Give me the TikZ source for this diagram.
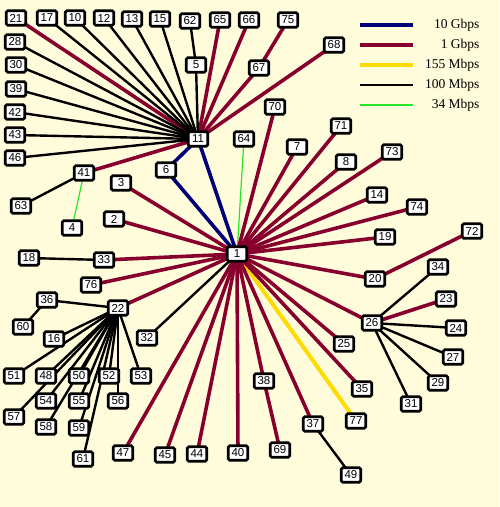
\documentclass[tikz,border=0pt]{standalone}
\usepackage{fontspec}
\setmainfont{Liberation Serif}
\setsansfont{Liberation Sans}
\usepackage{tikz}

\definecolor{paper}{RGB}{255,252,220}
\definecolor{linkblue}{RGB}{0,0,120}
\definecolor{linkred}{RGB}{135,0,45}
\definecolor{linkyellow}{RGB}{255,220,0}
\definecolor{linkgreen}{RGB}{40,230,40}

\pgfdeclarelayer{paperlayer}
\pgfdeclarelayer{linklayer}
\pgfsetlayers{paperlayer,linklayer,main}

\begin{document}
\begin{tikzpicture}[x=1pt, y=-1pt, font=\sffamily\fontsize{11.5}{12}\selectfont,
	host/.style={draw, fill=white, line width=2.7pt, rounded corners=1.5pt,
		minimum width=19.5pt, minimum height=14.5pt, inner sep=0pt},
	tengig/.style={draw=linkblue, line width=3.6pt},
	gig/.style={draw=linkred, line width=3.6pt},
	oc/.style={draw=linkyellow, line width=4pt},
	fast/.style={draw=black, line width=2.4pt},
	slow/.style={draw=linkgreen, line width=1.2pt},
	legtext/.style={anchor=east, font=\rmfamily\fontsize{13.5}{15}\selectfont}]
	\def\Lx{360}
	\def\Ll{53}
	\def\Tx{483}

	\begin{pgfonlayer}{paperlayer}
		\fill[paper]	(0,0) rectangle (499,507);
	\end{pgfonlayer}
	\useasboundingbox	(0,0) rectangle (499,507);

	% hosts
	\node[host] (n1) at (237,254) {1};
	\node[host] (n2) at (114,219) {2};
	\node[host] (n3) at (121,183) {3};
	\node[host] (n4) at (72,228) {4};
	\node[host] (n5) at (196,65) {5};
	\node[host] (n6) at (166,170) {6};
	\node[host] (n7) at (297,147) {7};
	\node[host] (n8) at (346,162) {8};
	\node[host] (n10) at (75,18) {10};
	\node[host] (n11) at (198,139) {11};
	\node[host] (n12) at (104,18) {12};
	\node[host] (n13) at (132,19) {13};
	\node[host] (n14) at (377,195) {14};
	\node[host] (n15) at (160,19) {15};
	\node[host] (n16) at (54,339) {16};
	\node[host] (n17) at (47,18) {17};
	\node[host] (n18) at (29,258) {18};
	\node[host] (n19) at (385,237) {19};
	\node[host] (n20) at (375,279) {20};
	\node[host] (n21) at (16,18) {21};
	\node[host] (n22) at (118,308) {22};
	\node[host] (n23) at (446,299) {23};
	\node[host] (n24) at (456,328) {24};
	\node[host] (n25) at (344,344) {25};
	\node[host] (n26) at (372,323) {26};
	\node[host] (n27) at (453,357) {27};
	\node[host] (n28) at (15,42) {28};
	\node[host] (n29) at (438,383) {29};
	\node[host] (n30) at (16,65) {30};
	\node[host] (n31) at (411,404) {31};
	\node[host] (n32) at (147,338) {32};
	\node[host] (n33) at (104,260) {33};
	\node[host] (n34) at (438,267) {34};
	\node[host] (n35) at (362,389) {35};
	\node[host] (n36) at (47,300) {36};
	\node[host] (n37) at (313,424) {37};
	\node[host] (n38) at (264,381) {38};
	\node[host] (n39) at (16,89) {39};
	\node[host] (n40) at (238,453) {40};
	\node[host] (n41) at (84,173) {41};
	\node[host] (n42) at (15,112) {42};
	\node[host] (n43) at (15,135) {43};
	\node[host] (n44) at (197,454) {44};
	\node[host] (n45) at (165,455) {45};
	\node[host] (n46) at (15,158) {46};
	\node[host] (n47) at (123,453) {47};
	\node[host] (n48) at (46,376) {48};
	\node[host] (n49) at (351,475) {49};
	\node[host] (n50) at (79,376) {50};
	\node[host] (n51) at (14,376) {51};
	\node[host] (n52) at (109,376) {52};
	\node[host] (n53) at (141,376) {53};
	\node[host] (n54) at (46,401) {54};
	\node[host] (n55) at (79,401) {55};
	\node[host] (n56) at (118,401) {56};
	\node[host] (n57) at (14,417) {57};
	\node[host] (n58) at (46,427) {58};
	\node[host] (n59) at (79,428) {59};
	\node[host] (n60) at (23,327) {60};
	\node[host] (n61) at (83,459) {61};
	\node[host] (n62) at (190,21) {62};
	\node[host] (n63) at (21,206) {63};
	\node[host] (n64) at (244,139) {64};
	\node[host] (n65) at (220,20) {65};
	\node[host] (n66) at (249,20) {66};
	\node[host] (n67) at (259,68) {67};
	\node[host] (n68) at (334,45) {68};
	\node[host] (n69) at (280,450) {69};
	\node[host] (n70) at (275,107) {70};
	\node[host] (n71) at (341,126) {71};
	\node[host] (n72) at (472,231) {72};
	\node[host] (n73) at (392,152) {73};
	\node[host] (n74) at (417,207) {74};
	\node[host] (n75) at (288,20) {75};
	\node[host] (n76) at (91,285) {76};
	\node[host] (n77) at (356,421) {77};

	% legend
	\coordinate (la1) at (\Lx,25);	\coordinate (lb1) at (\Lx+\Ll,25);
	\coordinate (la2) at (\Lx,45);	\coordinate (lb2) at (\Lx+\Ll,45);
	\coordinate (la3) at (\Lx,65);	\coordinate (lb3) at (\Lx+\Ll,65);
	\coordinate (la4) at (\Lx,85);	\coordinate (lb4) at (\Lx+\Ll,85);
	\coordinate (la5) at (\Lx,105);	\coordinate (lb5) at (\Lx+\Ll,105);
	\draw[tengig]	(la1) -- (lb1);
	\draw[gig]	(la2) -- (lb2);
	\draw[oc]	(la3) -- (lb3);
	\draw[fast]	(la4) -- (lb4);
	\draw[slow]	(la5) -- (lb5);
	\node[legtext] (t1) at (\Tx,25) {10 Gbps};
	\node[legtext] (t2) at (\Tx,45) {1 Gbps};
	\node[legtext] (t3) at (\Tx,65) {155 Mbps};
	\node[legtext] (t4) at (\Tx,85) {100 Mbps};
	\node[legtext] (t5) at (\Tx,105) {34 Mbps};

	\begin{pgfonlayer}{linklayer}
	% backbone
	\draw[tengig]	(n11.center) -- (n1.center);
	\draw[tengig]	(n11.center) -- (n6.center);
	\draw[tengig]	(n6.center) -- (n1.center);

	% router 11
	\draw[gig]	(n11.center) -- (n21.center);
	\draw[gig]	(n11.center) -- (n65.center);
	\draw[gig]	(n11.center) -- (n66.center);
	\draw[gig]	(n11.center) -- (n67.center);
	\draw[gig]	(n67.center) -- (n75.center);
	\draw[gig]	(n11.center) -- (n68.center);
	\draw[gig]	(n11.center) -- (n41.center);
	\draw[fast]	(n11.center) -- (n17.center);
	\draw[fast]	(n11.center) -- (n10.center);
	\draw[fast]	(n11.center) -- (n12.center);
	\draw[fast]	(n11.center) -- (n13.center);
	\draw[fast]	(n11.center) -- (n15.center);
	\draw[fast]	(n11.center) -- (n5.center);
	\draw[fast]	(n5.center) -- (n62.center);
	\draw[fast]	(n11.center) -- (n28.center);
	\draw[fast]	(n11.center) -- (n30.center);
	\draw[fast]	(n11.center) -- (n39.center);
	\draw[fast]	(n11.center) -- (n42.center);
	\draw[fast]	(n11.center) -- (n43.center);
	\draw[fast]	(n11.center) -- (n46.center);
	\draw[fast]	(n41.center) -- (n63.center);
	\draw[slow]	(n41.center) -- (n4.center);

	% router 1
	\draw[slow]	(n1.center) -- (n64.center);
	\draw[oc]	(n1.center) -- (n77.center);
	\draw[fast]	(n1.center) -- (n32.center);
	\draw[gig]	(n1.center) -- (n70.center);
	\draw[gig]	(n1.center) -- (n7.center);
	\draw[gig]	(n1.center) -- (n71.center);
	\draw[gig]	(n1.center) -- (n8.center);
	\draw[gig]	(n1.center) -- (n73.center);
	\draw[gig]	(n1.center) -- (n14.center);
	\draw[gig]	(n1.center) -- (n74.center);
	\draw[gig]	(n1.center) -- (n19.center);
	\draw[gig]	(n1.center) -- (n20.center);
	\draw[gig]	(n20.center) -- (n72.center);
	\draw[gig]	(n1.center) -- (n26.center);
	\draw[gig]	(n1.center) -- (n25.center);
	\draw[gig]	(n1.center) -- (n35.center);
	\draw[gig]	(n1.center) -- (n37.center);
	\draw[fast]	(n37.center) -- (n49.center);
	\draw[gig]	(n1.center) -- (n38.center);
	\draw[gig]	(n38.center) -- (n69.center);
	\draw[gig]	(n1.center) -- (n40.center);
	\draw[gig]	(n1.center) -- (n44.center);
	\draw[gig]	(n1.center) -- (n45.center);
	\draw[gig]	(n1.center) -- (n47.center);
	\draw[gig]	(n1.center) -- (n22.center);
	\draw[gig]	(n1.center) -- (n76.center);
	\draw[gig]	(n1.center) -- (n33.center);
	\draw[fast]	(n33.center) -- (n18.center);
	\draw[gig]	(n1.center) -- (n2.center);
	\draw[gig]	(n1.center) -- (n3.center);

	% router 26
	\draw[fast]	(n26.center) -- (n34.center);
	\draw[gig]	(n26.center) -- (n23.center);
	\draw[fast]	(n26.center) -- (n24.center);
	\draw[fast]	(n26.center) -- (n27.center);
	\draw[fast]	(n26.center) -- (n29.center);
	\draw[fast]	(n26.center) -- (n31.center);

	% router 22
	\draw[fast]	(n22.center) -- (n36.center);
	\draw[fast]	(n36.center) -- (n60.center);
	\draw[fast]	(n22.center) -- (n16.center);
	\draw[fast]	(n22.center) -- (n51.center);
	\draw[fast]	(n22.center) -- (n48.center);
	\draw[fast]	(n22.center) -- (n50.center);
	\draw[fast]	(n22.center) -- (n52.center);
	\draw[fast]	(n22.center) -- (n53.center);
	\draw[fast]	(n22.center) -- (n54.center);
	\draw[fast]	(n22.center) -- (n55.center);
	\draw[fast]	(n22.center) -- (n56.center);
	\draw[fast]	(n22.center) -- (n57.center);
	\draw[fast]	(n22.center) -- (n58.center);
	\draw[fast]	(n22.center) -- (n59.center);
	\draw[fast]	(n22.center) -- (n61.center);
	\end{pgfonlayer}
\end{tikzpicture}
\end{document}
